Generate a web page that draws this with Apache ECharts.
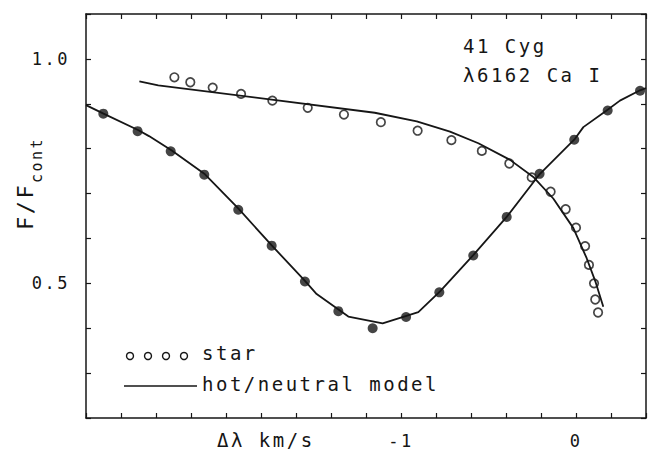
<!DOCTYPE html>
<html>
<head>
<meta charset="utf-8">
<script src="https://cdn.jsdelivr.net/npm/echarts@6.0.0/dist/echarts.min.js"></script>
<style>
  html, body { margin: 0; padding: 0; background: #fff; }
  #chart { width: 649px; height: 456px; }
  /* plotter-like wide lettering */
  #chart text { letter-spacing: 2.5px; }
</style>
</head>
<body>
<div id="chart"></div>
<script>
// filled dots
var filledX = [-2.701, -2.505, -2.316, -2.124, -1.930, -1.739, -1.549, -1.358, -1.162,
               -0.971, -0.781, -0.587, -0.396, -0.208, -0.010, 0.181, 0.366];
var filledY = [0.878, 0.839, 0.794, 0.742, 0.664, 0.584, 0.504, 0.438, 0.400,
               0.425, 0.480, 0.562, 0.648, 0.744, 0.820, 0.885, 0.929];
// model curve through the filled dots
var modelAX = [-2.8, -2.70, -2.50, -2.44, -2.31, -2.12, -1.93, -1.74, -1.55, -1.482, -1.301,
               -1.105, -0.901, -0.777, -0.587, -0.396, -0.206, -0.006, 0.042, 0.175, 0.251, 0.366, 0.4];
var modelAY = [0.897, 0.878, 0.841, 0.828, 0.796, 0.743, 0.667, 0.585, 0.506, 0.476, 0.426,
               0.411, 0.436, 0.482, 0.563, 0.648, 0.744, 0.822, 0.848, 0.885, 0.907, 0.930, 0.935];
// star (open circles)
var starX = [-2.295, -2.204, -2.076, -1.914, -1.735, -1.533, -1.326, -1.115, -0.905, -0.712,
             -0.538, -0.381, -0.253, -0.145, -0.059, 0.000, 0.052, 0.074, 0.103, 0.110, 0.126];
var starY = [0.959, 0.948, 0.936, 0.922, 0.907, 0.891, 0.876, 0.859, 0.840, 0.819,
             0.795, 0.767, 0.736, 0.704, 0.665, 0.624, 0.583, 0.541, 0.500, 0.464, 0.435];
// hot/neutral model
var modelBX = [-2.495, -2.387, -1.75, -1.15, -0.91, -0.72, -0.558, -0.377, -0.244, -0.13,
               -0.015, 0.061, 0.11, 0.156];
var modelBY = [0.950, 0.941, 0.910, 0.880, 0.861, 0.838, 0.812, 0.775, 0.737, 0.689,
               0.623, 0.556, 0.505, 0.448];
var xLabels = [-1, 0];
var yLabels = ['0.5', '1.0'];

function pairs(xs, ys) { return xs.map(function (x, i) { return [x, ys[i]]; }); }

var ink = '#161616';
var font = 'DejaVu Sans Mono';

var chart = echarts.init(document.getElementById('chart'), null, { renderer: 'svg' });

function xAx(pos) {
    return {
        type: 'value', position: pos, min: -2.8, max: 0.4, interval: 0.2,
        axisLine: { show: true, onZero: false, lineStyle: { color: ink, width: 1.5 } },
        axisTick: { show: true, inside: true, length: 5, lineStyle: { color: ink, width: 1.2 } },
        splitLine: { show: false },
        axisLabel: {
            show: pos === 'bottom', margin: 14, color: ink, fontFamily: font, fontSize: 17,
            formatter: function (v) {
                var r = Math.round(v * 10) / 10;
                return xLabels.indexOf(r) >= 0 ? String(Math.round(r)) : '';
            }
        }
    };
}
function yAx(pos) {
    return {
        type: 'value', position: pos, min: 0.2, max: 1.1, interval: 0.1,
        axisLine: { show: true, onZero: false, lineStyle: { color: ink, width: 1.5 } },
        axisTick: { show: true, inside: true, length: 5, lineStyle: { color: ink, width: 1.2 } },
        splitLine: { show: false },
        axisLabel: {
            show: pos === 'left', margin: 16, color: ink, fontFamily: font, fontSize: 17,
            formatter: function (v) {
                var s = v.toFixed(1);
                return yLabels.indexOf(s) >= 0 ? s : '';
            }
        }
    };
}

var option = {
    backgroundColor: '#fff',
    animation: false,
    grid: { left: 86, right: 3, top: 14, bottom: 38 },
    xAxis: [xAx('bottom'), xAx('top')],
    yAxis: [yAx('left'), yAx('right')],
    series: [
        { name: 'model', type: 'line', data: pairs(modelAX, modelAY), showSymbol: false,
          lineStyle: { color: ink, width: 1.8 }, silent: true },
        { name: 'hot/neutral model', type: 'line', data: pairs(modelBX, modelBY), showSymbol: false,
          lineStyle: { color: ink, width: 1.8 }, silent: true },
        { name: 'filled', type: 'scatter', data: pairs(filledX, filledY), symbol: 'circle', symbolSize: 10,
          itemStyle: { color: ink }, silent: true },
        { name: 'star', type: 'scatter', data: pairs(starX, starY), symbol: 'circle', symbolSize: 8.5,
          itemStyle: { color: '#fff', borderColor: ink, borderWidth: 1.7 }, silent: true }
    ],
    graphic: [
        { type: 'text', left: 463, top: 36, style: { text: '41 Cyg', font: '19px ' + font, fill: ink } },
        { type: 'text', left: 463, top: 65, style: { text: 'λ6162 Ca I', font: '19px ' + font, fill: ink } },
        // legend
        { type: 'circle', shape: { cx: 130, cy: 356, r: 3.5 }, style: { fill: '#fff', stroke: ink, lineWidth: 1.4 } },
        { type: 'circle', shape: { cx: 148, cy: 356, r: 3.5 }, style: { fill: '#fff', stroke: ink, lineWidth: 1.4 } },
        { type: 'circle', shape: { cx: 166, cy: 356, r: 3.5 }, style: { fill: '#fff', stroke: ink, lineWidth: 1.4 } },
        { type: 'circle', shape: { cx: 184, cy: 356, r: 3.5 }, style: { fill: '#fff', stroke: ink, lineWidth: 1.4 } },
        { type: 'text', left: 202, top: 343, style: { text: 'star', font: '19px ' + font, fill: ink } },
        { type: 'line', shape: { x1: 124, y1: 386, x2: 197, y2: 386 }, style: { stroke: ink, lineWidth: 1.6 } },
        { type: 'text', left: 202, top: 374, style: { text: 'hot/neutral model', font: '19px ' + font, fill: ink } },
        // x axis name
        { type: 'text', left: 217, top: 430, style: { text: 'Δλ km/s', font: '19px ' + font, fill: ink } },
        // y axis name F/F_cont
        { type: 'group', x: 0, y: 0, rotation: Math.PI / 2, children: [
            { type: 'text', x: -230, y: 25, style: { text: 'F/F', font: '22px ' + font, fill: ink,
              textAlign: 'left', textVerticalAlign: 'middle' } },
            { type: 'text', x: -183, y: 37, style: { text: 'cont', font: '15px ' + font, fill: ink,
              textAlign: 'left', textVerticalAlign: 'middle' } }
        ] }
    ]
};
chart.setOption(option);
window.addEventListener('resize', function () { chart.resize(); });
</script>
</body>
</html>
